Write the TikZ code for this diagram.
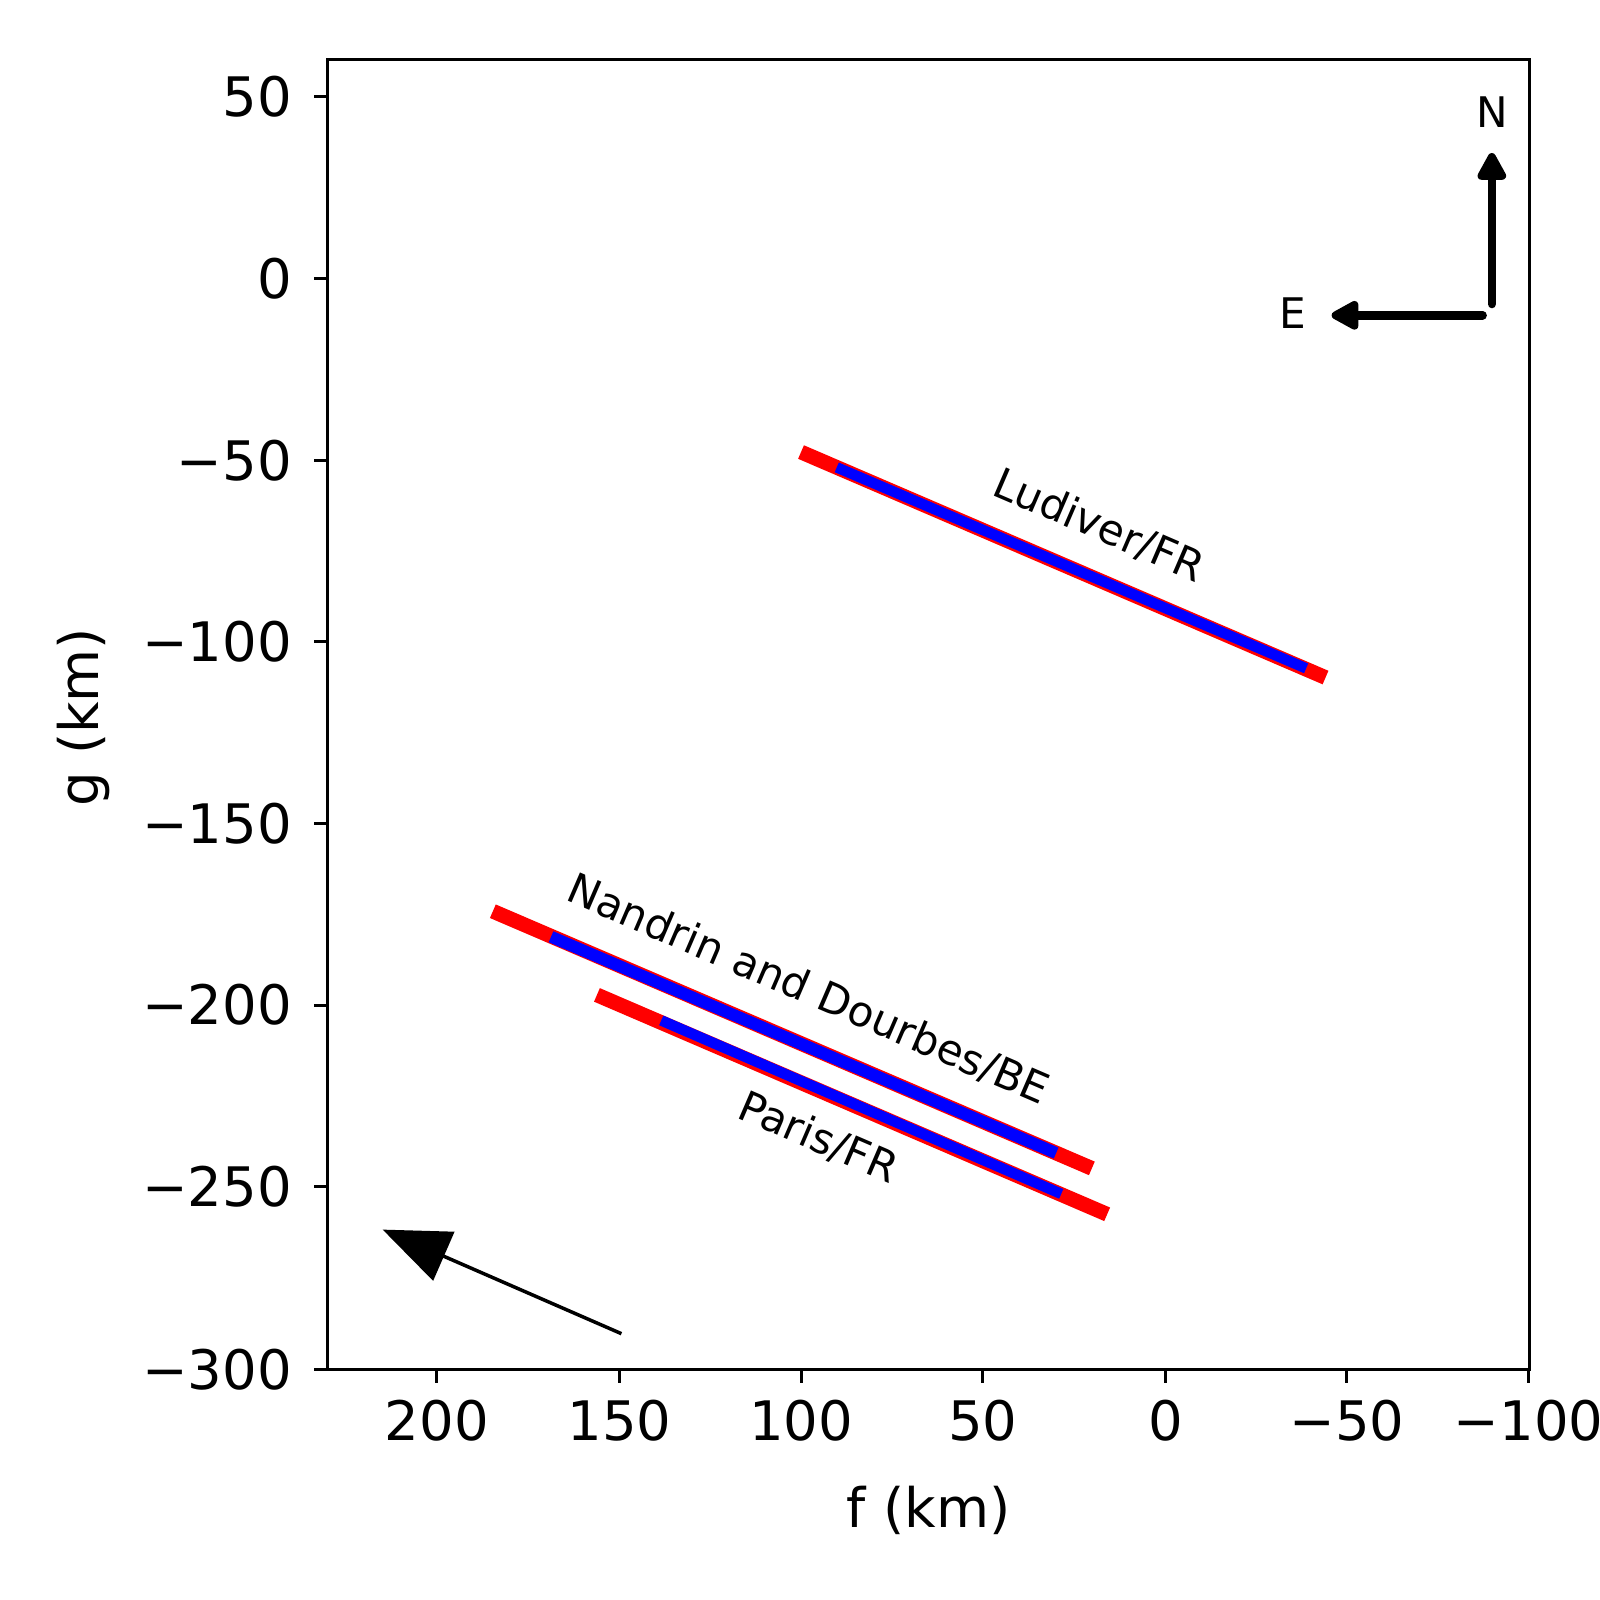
\documentclass[tikz,border=0pt]{standalone}
\usepackage{fontspec}
\setmainfont{DejaVu Sans}
\usetikzlibrary{arrows.meta}

\begin{document}
\begin{tikzpicture}[
            x = 0.010204cm, y = -0.010204cm, % pixel grid of the plot
            redline/.style = {red, line width=4.2pt},
            blueline/.style = {blue, line width=3pt},
            ticklab/.style = {font=\fontsize{15.5}{18}\selectfont},
            linelab/.style = {font=\fontsize{12}{14}\selectfont, rotate=-23.3},
            compass/.style = {line width=2.4pt, line cap=round, -{Triangle[length=9pt,width=9pt,round]}}
        ]

	% axes frame and ticks
	\draw[line width=0.85pt] (321,58) rectangle (1499,1342);
	\foreach \px/\lab in {428/200,607/150,785/100,963/50,1142/0,1320/−50,1498/−100} {
		\draw[line width=0.85pt] (\px,1342) -- (\px,1355);
		\node[ticklab, anchor=north] at (\px,1360) {\lab};
	}
	\foreach \py/\lab in {95/50,273/0,451/−50,629/−100,807/−150,985/−200,1163/−250,1342/−300} {
		\draw[line width=0.85pt] (321,\py) -- (308,\py);
		\node[ticklab, anchor=east] at (298,\py) {\lab};
	}
	\node[ticklab] (flab) at (910,1480) {f (km)};
	\node[ticklab, rotate=90] (glab) at (82,703) {g (km)};

	% Ludiver
	\coordinate (lr1) at (785,443);  \coordinate (lr2) at (1299,664);
	\coordinate (lb1) at (820,458);  \coordinate (lb2) at (1280,655);
	\draw[redline] (lr1) -- (lr2);
	\draw[blueline] (lb1) -- (lb2);
	\node[linelab] (ludiver) at (1077,515) {Ludiver/FR};

	% Nandrin and Dourbes
	\coordinate (nr1) at (483,893);  \coordinate (nr2) at (1070,1145);
	\coordinate (nb1) at (540,918);  \coordinate (nb2) at (1035,1130);
	\draw[redline] (nr1) -- (nr2);
	\draw[blueline, line width=3.4pt] (nb1) -- (nb2);
	\node[linelab] (nandrin) at (792,970) {Nandrin and Dourbes/BE};

	% Paris
	\coordinate (pr1) at (585,975);  \coordinate (pr2) at (1085,1190);
	\coordinate (pb1) at (648,1000); \coordinate (pb2) at (1040,1170);
	\draw[redline] (pr1) -- (pr2);
	\draw[blueline] (pb1) -- (pb2);
	\node[linelab] (paris) at (802,1115) {Paris/FR};

	% direction arrow
	\coordinate (a1) at (609,1307);
	\coordinate (a2) at (375,1205);
	\draw[line width=1pt, -{Triangle[length=19pt,width=15pt]}] (a1) -- (a2);

	% compass
	\coordinate (cn) at (1462,298);
	\coordinate (ce) at (1453,309);
	\node[font=\fontsize{12}{14}\selectfont] (north) at (1462,110) {N};
	\node[font=\fontsize{12}{14}\selectfont] (east) at (1267,307) {E};
	\draw[compass] (cn) -- (1462,150);
	\draw[compass] (ce) -- (1305,309);

	\pgfresetboundingbox
	\useasboundingbox (0,0) rectangle (1568,1568);
\end{tikzpicture}
\end{document}
